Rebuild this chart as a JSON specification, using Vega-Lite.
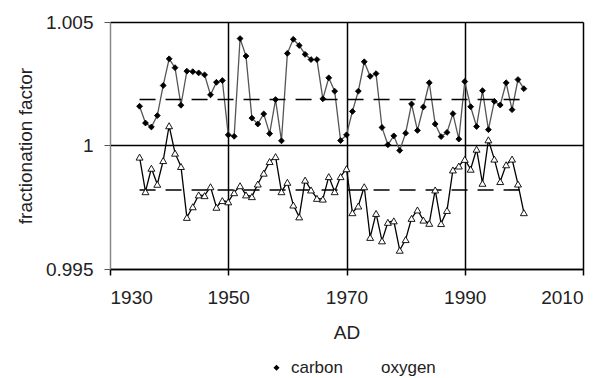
{
  "$schema": "https://vega.github.io/schema/vega-lite/v6.json",
  "autosize": "none",
  "width": 473,
  "height": 247,
  "padding": {"left": 110, "top": 22, "right": 29, "bottom": 109},
  "background": "white",
  "config": {
    "font": "Liberation Sans",
    "view": {"stroke": null},
    "axis": {"labelFont": "Liberation Sans", "titleFont": "Liberation Sans", "labelColor": "#222", "titleColor": "#222", "titleFontWeight": "normal"}
  },
  "datasets": {
    "series": [
      {"year":1935,"series":"carbon","value":1.00159},{"year":1936,"series":"carbon","value":1.00091},{"year":1937,"series":"carbon","value":1.00075},{"year":1938,"series":"carbon","value":1.00121},{"year":1939,"series":"carbon","value":1.00243},{"year":1940,"series":"carbon","value":1.00351},{"year":1941,"series":"carbon","value":1.00315},{"year":1942,"series":"carbon","value":1.00163},{"year":1943,"series":"carbon","value":1.00301},{"year":1944,"series":"carbon","value":1.00299},{"year":1945,"series":"carbon","value":1.00294},{"year":1946,"series":"carbon","value":1.00286},{"year":1947,"series":"carbon","value":1.00205},{"year":1948,"series":"carbon","value":1.00256},{"year":1949,"series":"carbon","value":1.00263},{"year":1950,"series":"carbon","value":1.00043},{"year":1951,"series":"carbon","value":1.00037},{"year":1952,"series":"carbon","value":1.00433},{"year":1953,"series":"carbon","value":1.00362},{"year":1954,"series":"carbon","value":1.00111},{"year":1955,"series":"carbon","value":1.00087},{"year":1956,"series":"carbon","value":1.00128},{"year":1957,"series":"carbon","value":1.00048},{"year":1958,"series":"carbon","value":1.00186},{"year":1959,"series":"carbon","value":1.00019},{"year":1960,"series":"carbon","value":1.00373},{"year":1961,"series":"carbon","value":1.0043},{"year":1962,"series":"carbon","value":1.00405},{"year":1963,"series":"carbon","value":1.00369},{"year":1964,"series":"carbon","value":1.00348},{"year":1965,"series":"carbon","value":1.00348},{"year":1966,"series":"carbon","value":1.00189},{"year":1967,"series":"carbon","value":1.00274},{"year":1968,"series":"carbon","value":1.0022},{"year":1969,"series":"carbon","value":1.0002},{"year":1970,"series":"carbon","value":1.00043},{"year":1971,"series":"carbon","value":1.00138},{"year":1972,"series":"carbon","value":1.0022},{"year":1973,"series":"carbon","value":1.00339},{"year":1974,"series":"carbon","value":1.0028},{"year":1975,"series":"carbon","value":1.00291},{"year":1976,"series":"carbon","value":1.00073},{"year":1977,"series":"carbon","value":1.00003},{"year":1978,"series":"carbon","value":1.00039},{"year":1979,"series":"carbon","value":0.9998},{"year":1980,"series":"carbon","value":1.0005},{"year":1981,"series":"carbon","value":1.00168},{"year":1982,"series":"carbon","value":1.00061},{"year":1983,"series":"carbon","value":1.00156},{"year":1984,"series":"carbon","value":1.00254},{"year":1985,"series":"carbon","value":1.00087},{"year":1986,"series":"carbon","value":1.00036},{"year":1987,"series":"carbon","value":1.00053},{"year":1988,"series":"carbon","value":1.00129},{"year":1989,"series":"carbon","value":1.00026},{"year":1990,"series":"carbon","value":1.00259},{"year":1991,"series":"carbon","value":1.00157},{"year":1992,"series":"carbon","value":1.00077},{"year":1993,"series":"carbon","value":1.00222},{"year":1994,"series":"carbon","value":1.00064},{"year":1995,"series":"carbon","value":1.00179},{"year":1996,"series":"carbon","value":1.00164},{"year":1997,"series":"carbon","value":1.00254},{"year":1998,"series":"carbon","value":1.00145},{"year":1999,"series":"carbon","value":1.00267},{"year":2000,"series":"carbon","value":1.0023},
      {"year":1935,"series":"oxygen","value":0.99953},{"year":1936,"series":"oxygen","value":0.99813},{"year":1937,"series":"oxygen","value":0.99908},{"year":1938,"series":"oxygen","value":0.99843},{"year":1939,"series":"oxygen","value":0.99939},{"year":1940,"series":"oxygen","value":1.0008},{"year":1941,"series":"oxygen","value":0.99969},{"year":1942,"series":"oxygen","value":0.99915},{"year":1943,"series":"oxygen","value":0.99709},{"year":1944,"series":"oxygen","value":0.99752},{"year":1945,"series":"oxygen","value":0.998},{"year":1946,"series":"oxygen","value":0.99797},{"year":1947,"series":"oxygen","value":0.99833},{"year":1948,"series":"oxygen","value":0.9975},{"year":1949,"series":"oxygen","value":0.99777},{"year":1950,"series":"oxygen","value":0.99772},{"year":1951,"series":"oxygen","value":0.99809},{"year":1952,"series":"oxygen","value":0.99837},{"year":1953,"series":"oxygen","value":0.998},{"year":1954,"series":"oxygen","value":0.99793},{"year":1955,"series":"oxygen","value":0.99844},{"year":1956,"series":"oxygen","value":0.99888},{"year":1957,"series":"oxygen","value":0.99935},{"year":1958,"series":"oxygen","value":0.99955},{"year":1959,"series":"oxygen","value":0.99813},{"year":1960,"series":"oxygen","value":0.99851},{"year":1961,"series":"oxygen","value":0.99759},{"year":1962,"series":"oxygen","value":0.99711},{"year":1963,"series":"oxygen","value":0.9986},{"year":1964,"series":"oxygen","value":0.9982},{"year":1965,"series":"oxygen","value":0.99786},{"year":1966,"series":"oxygen","value":0.99783},{"year":1967,"series":"oxygen","value":0.99874},{"year":1968,"series":"oxygen","value":0.99813},{"year":1969,"series":"oxygen","value":0.99874},{"year":1970,"series":"oxygen","value":0.99906},{"year":1971,"series":"oxygen","value":0.99728},{"year":1972,"series":"oxygen","value":0.99755},{"year":1973,"series":"oxygen","value":0.99833},{"year":1974,"series":"oxygen","value":0.99628},{"year":1975,"series":"oxygen","value":0.99725},{"year":1976,"series":"oxygen","value":0.99614},{"year":1977,"series":"oxygen","value":0.99689},{"year":1978,"series":"oxygen","value":0.99695},{"year":1979,"series":"oxygen","value":0.99576},{"year":1980,"series":"oxygen","value":0.99619},{"year":1981,"series":"oxygen","value":0.99705},{"year":1982,"series":"oxygen","value":0.99739},{"year":1983,"series":"oxygen","value":0.99698},{"year":1984,"series":"oxygen","value":0.99685},{"year":1985,"series":"oxygen","value":0.9982},{"year":1986,"series":"oxygen","value":0.99684},{"year":1987,"series":"oxygen","value":0.99737},{"year":1988,"series":"oxygen","value":0.99901},{"year":1989,"series":"oxygen","value":0.99917},{"year":1990,"series":"oxygen","value":0.99944},{"year":1991,"series":"oxygen","value":0.99904},{"year":1992,"series":"oxygen","value":0.99985},{"year":1993,"series":"oxygen","value":0.99847},{"year":1994,"series":"oxygen","value":1.00023},{"year":1995,"series":"oxygen","value":0.99945},{"year":1996,"series":"oxygen","value":0.99854},{"year":1997,"series":"oxygen","value":0.99922},{"year":1998,"series":"oxygen","value":0.99945},{"year":1999,"series":"oxygen","value":0.99844},{"year":2000,"series":"oxygen","value":0.99728}
    ],
    "means": [
      {"series":"carbon","mean":1.00186,"start":1935,"end":2000},
      {"series":"oxygen","mean":0.9982,"start":1935,"end":2000}
    ]
  },
  "layer": [
    {
      "data": {"name": "series"},
      "mark": {"type": "line", "strokeWidth": 1.3},
      "encoding": {
        "x": {
          "field": "year", "type": "quantitative",
          "scale": {"domain": [1930, 2010], "nice": false, "zero": false},
          "axis": {
            "values": [1930, 1950, 1970, 1990, 2010], "format": "d", "title": "AD",
            "labelFontSize": 19, "titleFontSize": 19, "labelPadding": 13, "titlePadding": 16,
            "tickSize": 6, "tickColor": "black", "tickWidth": 1.5,
            "domainColor": "black", "domainWidth": 1.5,
            "grid": true, "gridWidth": 1.5,
            "gridColor": {"condition": {"test": "datum.value == 1930", "value": "#888888"}, "value": "black"}
          }
        },
        "y": {
          "field": "value", "type": "quantitative",
          "scale": {"domain": [0.995, 1.005], "nice": false, "zero": false},
          "axis": {
            "values": [0.995, 1, 1.005], "labelExpr": "'' + datum.value", "title": "fractionation factor",
            "labelFontSize": 19, "titleFontSize": 19, "labelPadding": 11, "titlePadding": 10,
            "tickSize": 6, "tickColor": "#555", "domainColor": "#888888", "domainWidth": 1,
            "grid": true, "gridWidth": 1.5, "gridColor": "black"
          }
        },
        "stroke": {"condition": {"test": "datum.series === 'carbon'", "value": "#555555"}, "value": "#000000"},
        "detail": {"field": "series"}
      }
    },
    {
      "data": {"name": "means"},
      "mark": {"type": "rule", "strokeDash": [16, 10], "strokeWidth": 1.6, "color": "black"},
      "encoding": {
        "x": {"field": "start", "type": "quantitative"},
        "x2": {"field": "end"},
        "y": {"field": "mean", "type": "quantitative"}
      }
    },
    {
      "data": {"name": "series"},
      "mark": {"type": "point", "filled": true, "opacity": 1, "stroke": "black", "strokeWidth": 0.9},
      "encoding": {
        "x": {"field": "year", "type": "quantitative"},
        "y": {"field": "value", "type": "quantitative"},
        "shape": {"condition": {"test": "datum.series === 'carbon'", "value": "diamond"}, "value": "triangle-up"},
        "fill": {"condition": {"test": "datum.series === 'carbon'", "value": "black"}, "value": "white"},
        "size": {"condition": {"test": "datum.series === 'carbon'", "value": 34}, "value": 48}
      }
    },
    {
      "data": {"name": "means"},
      "mark": {"type": "point", "filled": true, "size": 0, "stroke": "black", "strokeWidth": 1.2},
      "encoding": {
        "x": {"field": "start", "type": "quantitative"},
        "y": {"field": "mean", "type": "quantitative"},
        "shape": {
          "field": "series", "type": "nominal",
          "scale": {"domain": ["carbon", "oxygen"], "range": ["M-1,0L1,0M0,-0.29L0.29,0L0,0.29L-0.29,0Z", "M-1,0L-0.33,0M0.33,0L1,0M0,-0.36L0.33,0.24L-0.33,0.24Z"]},
          "legend": {
            "orient": "none", "legendX": 155, "legendY": 334, "direction": "horizontal", "title": null,
            "labelFontSize": 17, "labelFont": "Liberation Sans", "labelColor": "#222", "symbolSize": 441, "symbolOpacity": 1,
            "symbolStrokeColor": "black", "symbolStrokeWidth": 1.2,
            "labelOffset": 3, "columnPadding": 10, "padding": 0,
            "encode": {
              "symbols": {
                "stroke": {"value": "black"},
                "strokeWidth": {"value": 1.2},
                "opacity": {"value": 1},
                "size": {"value": 441}
              }
            }
          }
        },
        "fill": {
          "field": "series", "type": "nominal",
          "scale": {"domain": ["carbon", "oxygen"], "range": ["black", "white"]},
          "legend": {"orient": "none", "legendX": 155, "legendY": 334, "direction": "horizontal", "title": null}
        }
      }
    }
  ]
}
